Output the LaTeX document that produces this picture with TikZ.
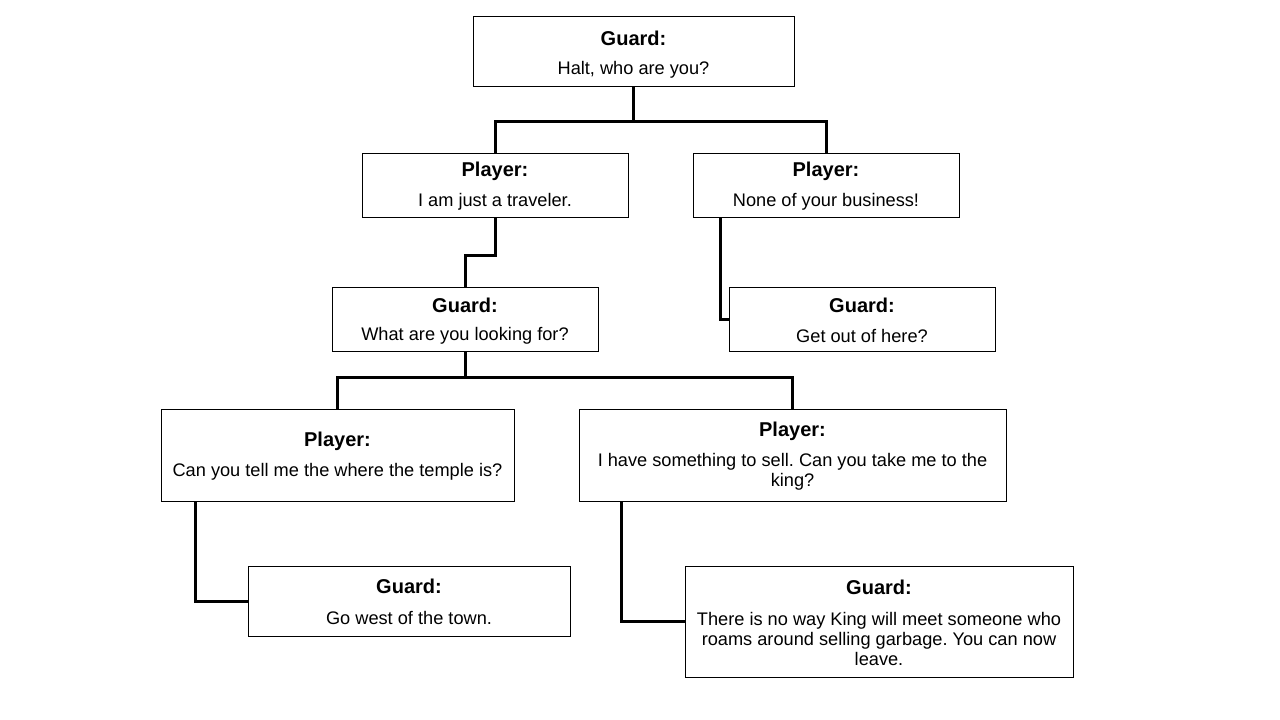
\documentclass[tikz,border=0pt]{standalone}
\usepackage{fontspec}
\setmainfont{Liberation Sans}
\frenchspacing
\begin{document}
\begin{tikzpicture}[x=1pt,y=-1pt,
  box/.style={draw=black, line width=1pt, inner sep=0pt},
  conn/.style={draw=black, line width=3pt},
  ttl/.style={inner sep=0pt, font=\fontsize{20}{22}\selectfont\bfseries},
  txt/.style={inner sep=0pt, align=center, font=\fontsize{18.2}{20}\selectfont}]
\useasboundingbox[fill=white] (0,0) rectangle (1280,720);
% boxes
\node[box, minimum width=321pt, minimum height=70pt] (g1) at (633.5,51) {};
\node[box, minimum width=266pt, minimum height=64pt] (p1) at (495,185) {};
\node[box, minimum width=266pt, minimum height=64pt] (p2) at (826,185) {};
\node[box, minimum width=266pt, minimum height=64pt] (g2) at (465,319) {};
\node[box, minimum width=266pt, minimum height=64pt] (g3) at (862,319) {};
\node[box, minimum width=353pt, minimum height=92pt] (p3) at (337.5,455) {};
\node[box, minimum width=427pt, minimum height=92pt] (p4) at (792.5,455) {};
\node[box, minimum width=322pt, minimum height=70pt] (g4) at (409,601) {};
\node[box, minimum width=388pt, minimum height=111pt] (g5) at (879,621.5) {};
% texts
\node[ttl] (g1t) at (633.5,38.5) {Guard:};
\node[txt] (g1b) at (633.5,70) {Halt, who are you?};
\node[ttl] (p1t) at (495,171.5) {Player:};
\node[txt] (p1b) at (495,202) {I am just a traveler.};
\node[ttl] (p2t) at (826,171.5) {Player:};
\node[txt] (p2b) at (826,202) {None of your business!};
\node[ttl] (g2t) at (465,305.5) {Guard:};
\node[txt] (g2b) at (465,336) {What are you looking for?};
\node[ttl] (g3t) at (862,305.5) {Guard:};
\node[txt] (g3b) at (862,336) {Get out of here?};
\node[ttl] (p3t) at (337.5,441.5) {Player:};
\node[txt] (p3b) at (337.5,472) {Can you tell me the where the temple is?};
\node[ttl] (p4t) at (792.5,431.5) {Player:};
\node[txt] (p4b) at (792.5,471.5) {I have something to sell. Can you take me to the\\king?};
\node[ttl] (g4t) at (409,586.5) {Guard:};
\node[txt] (g4b) at (409,618) {Go west of the town.};
\node[ttl] (g5t) at (879,587.5) {Guard:};
\node[txt] (g5b) at (879,638.5) {There is no way King will meet someone who\\roams around selling garbage. You can now\\leave.};
% connectors
\draw[conn] (g1.south) -- ++(0,35) -| (p1.north);
\draw[conn] (g1.south) ++(0,35) -| (p2.north);
\draw[conn] (p1.south) -- ++(0,38) -| (g2.north);
\draw[conn] ([xshift=28pt]p2.south west) |- (g3.west);
\draw[conn] (g2.south) -- ++(0,26) -| (p3.north);
\draw[conn] (g2.south) ++(0,26) -| (p4.north);
\draw[conn] ([xshift=35pt]p3.south west) |- (g4.west);
\draw[conn] ([xshift=43pt]p4.south west) |- (g5.west);
\end{tikzpicture}
\end{document}
